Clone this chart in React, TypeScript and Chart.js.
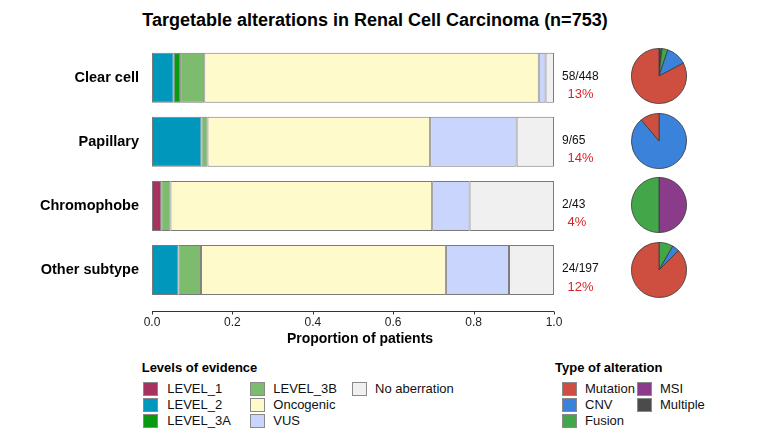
import React, { useEffect, useRef } from "react";
import { Chart, registerables } from "chart.js";

Chart.register(...registerables);

// ---------- data ----------
const subtypes = ["Clear cell", "Papillary", "Chromophobe", "Other subtype"];
const levelNames = ["LEVEL_1", "LEVEL_2", "LEVEL_3A", "LEVEL_3B", "Oncogenic", "VUS", "No aberration"];
const level1 = [0, 0, 0.023, 0];
const level2 = [0.054, 0.123, 0, 0.066];
const level3A = [0.016, 0, 0, 0];
const level3B = [0.06, 0.015, 0.023, 0.056];
const oncogenic = [0.832, 0.554, 0.651, 0.609];
const vus = [0.017, 0.215, 0.093, 0.157];
const noAberration = [0.021, 0.093, 0.21, 0.112];
const fractionLabels = ["58/448", "9/65", "2/43", "24/197"];
const percentLabels = ["13%", "14%", "4%", "12%"];
const xTicks = [0, 0.2, 0.4, 0.6, 0.8, 1.0];

const alterationNames = ["Mutation", "CNV", "Fusion", "MSI", "Multiple"];
const mutationCounts = [48, 1, 0, 21];
const cnvCounts = [7, 8, 0, 1];
const fusionCounts = [2, 0, 1, 2];
const msiCounts = [0, 0, 1, 0];
const multipleCounts = [1, 0, 0, 0];

// ---------- styles ----------
const levelColors = ["#A8325F", "#0097BD", "#0A9A12", "#7DBB6E", "#FEFACB", "#CAD5FD", "#F0F0F0"];
const alterationColors = ["#CE4E3F", "#3B82DB", "#43A649", "#8A3C8A", "#4B4B4B"];
const FONT = "'Liberation Sans', Arial, Helvetica, sans-serif";
const pieCentersY = [75.8, 140.5, 205.3, 269.5];

function PieChart({ index }: { index: number }) {
  const ref = useRef<HTMLCanvasElement | null>(null);
  useEffect(() => {
    if (!ref.current) return;
    // clockwise from 12 o'clock: Multiple, MSI, Fusion, CNV, Mutation
    const order = [4, 3, 2, 1, 0];
    const byType = [mutationCounts, cnvCounts, fusionCounts, msiCounts, multipleCounts];
    const chart = new Chart(ref.current, {
      type: "pie",
      data: {
        labels: order.map((k) => alterationNames[k]),
        datasets: [
          {
            data: order.map((k) => byType[k][index]),
            backgroundColor: order.map((k) => alterationColors[k]),
            borderColor: "#3a3a3a",
            borderWidth: 0.8,
          },
        ],
      },
      options: {
        animation: false,
        responsive: false,
        maintainAspectRatio: false,
        events: [],
        layout: { padding: 0 },
        plugins: { legend: { display: false }, tooltip: { enabled: false } },
      },
    });
    return () => chart.destroy();
  }, [index]);
  return (
    <canvas
      ref={ref}
      width={56}
      height={56}
      style={{ position: "absolute", left: 631, top: pieCentersY[index] - 28, width: 56, height: 56 }}
    />
  );
}

function BarChart() {
  const ref = useRef<HTMLCanvasElement | null>(null);
  useEffect(() => {
    if (!ref.current) return;
    const series = [level1, level2, level3A, level3B, oncogenic, vus, noAberration];
    const annotate = {
      id: "annotate",
      afterDraw(chart: any) {
        const ctx = chart.ctx;
        const xs = chart.scales.x;
        const ys = chart.scales.y;
        ctx.save();
        // axis line with ticks, offset below plot region
        const axisY = 311.5;
        ctx.strokeStyle = "#333";
        ctx.lineWidth = 1;
        ctx.beginPath();
        ctx.moveTo(xs.getPixelForValue(0), axisY);
        ctx.lineTo(xs.getPixelForValue(1), axisY);
        xTicks.forEach((t) => {
          const px = Math.round(xs.getPixelForValue(t)) + 0.5;
          ctx.moveTo(px, axisY);
          ctx.lineTo(px, axisY + 3);
        });
        ctx.stroke();
        // axis title
        ctx.fillStyle = "#000";
        ctx.font = `bold 14px ${FONT}`;
        ctx.textAlign = "center";
        ctx.textBaseline = "middle";
        ctx.fillText("Proportion of patients", (xs.left + xs.right) / 2 + 7, 339.3);
        // counts and percentages
        ctx.textAlign = "left";
        subtypes.forEach((_, i) => {
          const y = ys.getPixelForValue(i);
          ctx.fillStyle = "#111";
          ctx.font = `12px ${FONT}`;
          ctx.fillText(fractionLabels[i], 562, y - 1);
          ctx.fillStyle = "#D82428";
          ctx.font = `13px ${FONT}`;
          ctx.fillText(percentLabels[i], 567.5, y + 17);
        });
        ctx.restore();
      },
    };
    const chart = new Chart(ref.current, {
      type: "bar",
      data: {
        labels: subtypes,
        datasets: series.map((d, k) => ({
          label: levelNames[k],
          data: d,
          backgroundColor: levelColors[k],
          borderColor: "#7a7a7a",
          borderWidth: 1,
          borderSkipped: false,
          barPercentage: 0.78,
          categoryPercentage: 1,
        })),
      },
      options: {
        animation: false,
        responsive: false,
        maintainAspectRatio: false,
        events: [],
        indexAxis: "y",
        layout: { padding: { left: 0, right: 225, top: 45.7, bottom: 0 } },
        plugins: { legend: { display: false }, tooltip: { enabled: false } },
        scales: {
          x: {
            stacked: true,
            min: 0,
            max: 1,
            afterBuildTicks: (scale: any) => {
              scale.ticks = xTicks.map((v) => ({ value: v }));
            },
            ticks: {
              callback: (v: any) => Number(v).toFixed(1),
              font: { family: FONT, size: 12 },
              color: "#222",
              padding: 13.5,
              maxRotation: 0,
            },
            grid: { display: false, drawTicks: false },
            border: { display: false },
            title: { display: false },
            afterFit: (scale: any) => {
              scale.height = 58;
            },
          },
          y: {
            stacked: true,
            ticks: {
              font: { family: FONT, size: 14.5, weight: "bold" },
              color: "#000",
              padding: 13,
            },
            grid: { display: false, drawTicks: false },
            border: { display: false },
            afterFit: (scale: any) => {
              scale.width = 152;
            },
          },
        },
      },
      plugins: [annotate],
    });
    return () => chart.destroy();
  }, []);
  return (
    <canvas
      ref={ref}
      width={779}
      height={360}
      style={{ position: "absolute", left: 0, top: 0, width: 779, height: 360 }}
    />
  );
}

function LegendBlock({
  title,
  names,
  colors,
  left,
  squareX,
  textX,
}: {
  title: string;
  names: string[];
  colors: string[];
  left: number;
  squareX: number[];
  textX: number[];
}) {
  const rowCenters = [388.7, 404.5, 420.8];
  return (
    <>
      <div
        style={{
          position: "absolute",
          left,
          top: 359.7,
          height: 16,
          lineHeight: "16px",
          font: `bold 13px ${FONT}`,
          color: "#000",
          whiteSpace: "nowrap",
        }}
      >
        {title}
      </div>
      {names.map((n, i) => {
        const col = Math.floor(i / 3);
        const row = i % 3;
        const cy = rowCenters[row];
        return (
          <React.Fragment key={n}>
            <div
              style={{
                position: "absolute",
                left: squareX[col],
                top: cy - 7,
                width: 13,
                height: 12,
                background: colors[i],
                border: "1px solid #8a8a8a",
              }}
            />
            <div
              style={{
                position: "absolute",
                left: textX[col],
                top: cy - 8,
                height: 16,
                lineHeight: "16px",
                font: `13px ${FONT}`,
                color: "#111",
                whiteSpace: "nowrap",
              }}
            >
              {n}
            </div>
          </React.Fragment>
        );
      })}
    </>
  );
}

export default function App() {
  return (
    <div
      style={{
        position: "fixed",
        left: 0,
        top: 0,
        width: 779,
        height: 437,
        background: "#fff",
        overflow: "hidden",
        fontFamily: FONT,
      }}
    >
      <div
        style={{
          position: "absolute",
          left: 0,
          top: 9.7,
          width: 750,
          height: 20,
          lineHeight: "20px",
          textAlign: "center",
          font: `bold 18px ${FONT}`,
          color: "#000",
          whiteSpace: "nowrap",
        }}
      >
        Targetable alterations in Renal Cell Carcinoma (n=753)
      </div>
      <BarChart />
      {subtypes.map((s, i) => (
        <PieChart key={s} index={i} />
      ))}
      <LegendBlock
        title="Levels of evidence"
        names={levelNames}
        colors={levelColors}
        left={141.7}
        squareX={[143.3, 250, 351.7]}
        textX={[167.3, 273.3, 375]}
      />
      <LegendBlock
        title="Type of alteration"
        names={alterationNames}
        colors={alterationColors}
        left={555}
        squareX={[561.7, 636.7]}
        textX={[585, 660]}
      />
    </div>
  );
}
